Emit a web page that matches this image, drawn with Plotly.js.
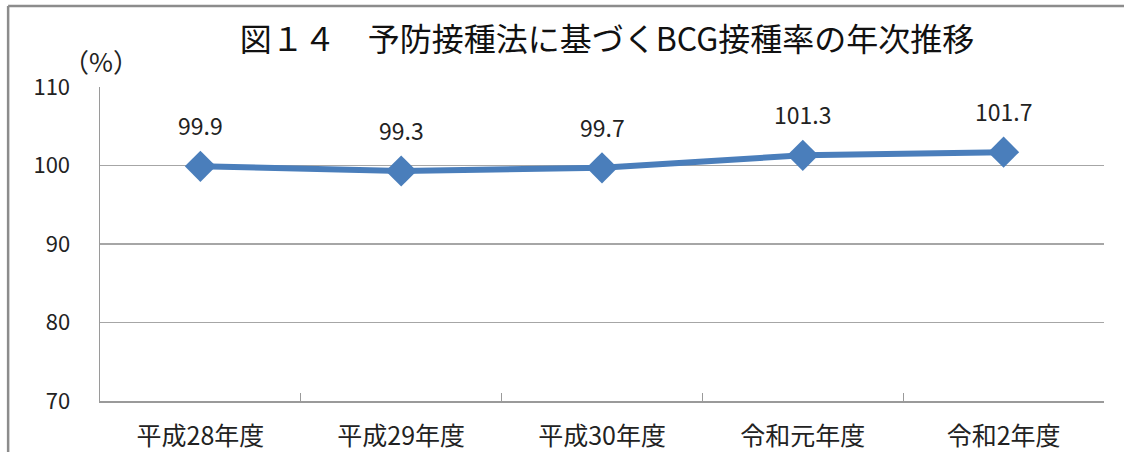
<!DOCTYPE html>
<html>
<head>
<meta charset="utf-8">
<script src="https://cdn.plot.ly/plotly-3.0.1.min.js"></script>
<style>
html,body{margin:0;padding:0;background:#fff;}
#chart{width:1124px;height:452px;}
</style>
</head>
<body>
<div id="chart"></div>
<script>
var categories = ["平成28年度", "平成29年度", "平成30年度", "令和元年度", "令和2年度"];
var rates = [99.9, 99.3, 99.7, 101.3, 101.7];
var yTicks = [70, 80, 90, 100, 110];

var FONT = "Noto Sans CJK JP, Noto Sans, sans-serif";
var BLUE = "#4a7ebb";

var trace = {
  x: categories,
  y: rates,
  type: "scatter",
  mode: "lines+markers",
  line: {color: BLUE, width: 6},
  marker: {symbol: "diamond", size: 24, color: BLUE},
  hoverinfo: "skip"
};

var annotations = categories.map(function (c, i) {
  return {
    x: c, y: rates[i], xref: "x", yref: "y",
    text: rates[i].toFixed(1),
    showarrow: false, yshift: 41,
    font: {family: FONT, size: 23, color: "#222"}
  };
});
annotations.push({
  x: 0, y: 1, xref: "paper", yref: "paper",
  xanchor: "center", yanchor: "middle",
  xshift: 1, yshift: 27,
  text: "（%）", showarrow: false,
  font: {family: "Noto Sans CJK JP", size: 26, color: "#222"}
});

var layout = {
  width: 1124, height: 452,
  margin: {l: 100, r: 20, t: 87, b: 51},
  paper_bgcolor: "#fff", plot_bgcolor: "#fff",
  showlegend: false,
  title: {
    text: "図１４　予防接種法に基づくBCG接種率の年次推移",
    x: 0.54, xanchor: "center", y: 0.912, yanchor: "middle",
    font: {family: FONT, size: 32, color: "#111"}
  },
  xaxis: {
    type: "category",
    range: [-0.5, 4.5],
    showgrid: false,
    showline: true, linecolor: "#9a9a9a", linewidth: 1.5,
    ticks: "inside", tickson: "boundaries", ticklen: 8, tickcolor: "#9a9a9a",
    ticklabelstandoff: 12,
    tickfont: {family: FONT, size: 25, color: "#222"},
    fixedrange: true
  },
  yaxis: {
    range: [70, 110],
    tickvals: yTicks,
    ticktext: yTicks.map(String),
    showgrid: true, gridcolor: "#a6a6a6", gridwidth: 1.5,
    showline: true, linecolor: "#9a9a9a", linewidth: 1.5,
    zeroline: false,
    ticks: "",
    ticklabelstandoff: 24,
    tickfont: {family: FONT, size: 22, color: "#222"},
    fixedrange: true
  },
  shapes: [
    {type: "line", xref: "paper", yref: "paper",
     x0: -0.0915, x1: -0.0915, y0: -0.2, y1: 1.258,
     line: {color: "#8c8c8c", width: 2.5}},
    {type: "line", xref: "paper", yref: "paper",
     x0: -0.0915, x1: 1.05, y0: 1.258, y1: 1.258,
     line: {color: "#8c8c8c", width: 2.5}}
  ],
  annotations: annotations
};

Plotly.newPlot("chart", [trace], layout, {displayModeBar: false, staticPlot: true});
</script>
</body>
</html>
